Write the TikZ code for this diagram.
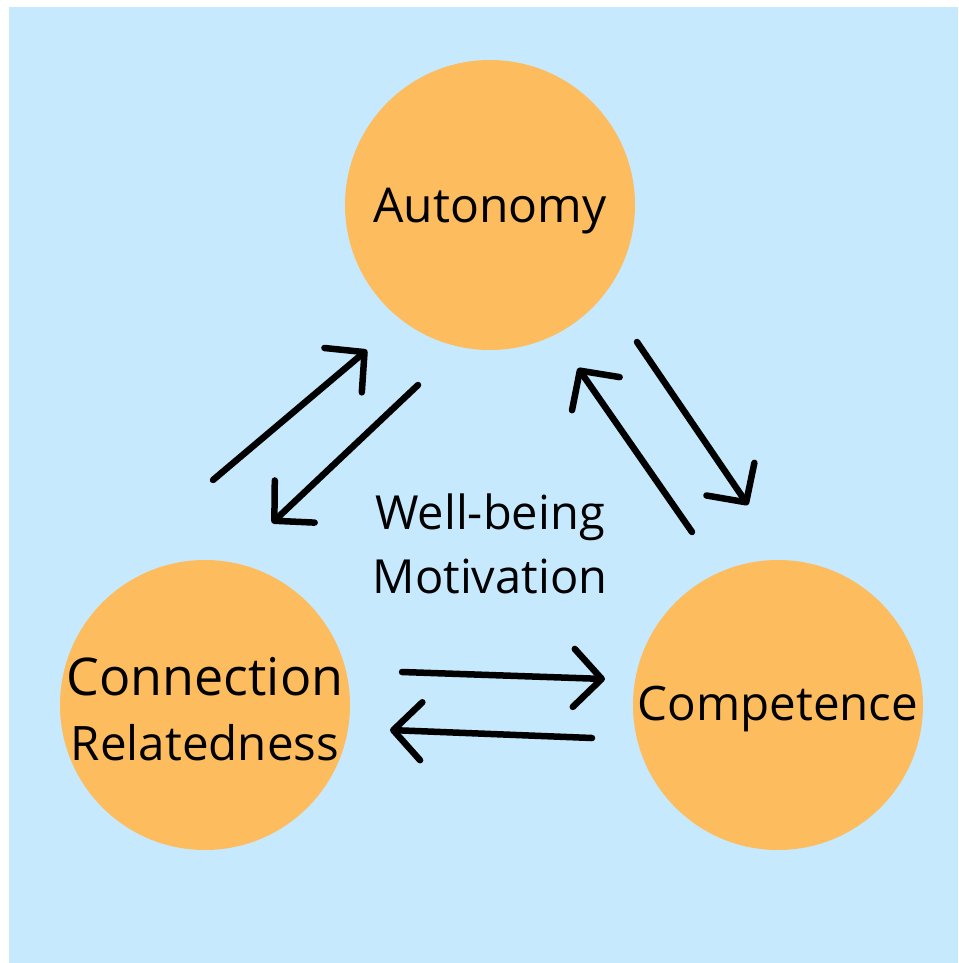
\documentclass[tikz,border=0pt]{standalone}
\usepackage{fontspec}
\setmainfont{Open Sans}
\usepackage{tikz}
\usetikzlibrary{arrows.meta,positioning}

\definecolor{skyblue}{HTML}{C7E9FE}
\definecolor{needorange}{HTML}{FDBC5E}

\begin{document}
\begin{tikzpicture}[x=1pt,y=-1pt]
	\tikzset{need/.style={circle,fill=needorange,minimum size=290pt,inner sep=0pt},
		word/.style={anchor=base,inner sep=0pt,font=\fontsize{#1}{#1}\selectfont},
		sketch/.style={line width=6.5pt,line cap=round,line join=round,-{Straight Barb[length=28pt,width=58pt,line cap=round,line join=round]}}}
	\useasboundingbox (0,0) rectangle (958,963);
	\fill[skyblue] (9,7) rectangle (958,963);

	%% the three needs
	\node[need] (aut) at (490,205) {};
	\node[need] (com) at (778,705) {};
	\node[need] (con) at (205,705) {};
	\node[word=48] (autt) at (490,222) {Autonomy};
	\node[word=47.5] (comt) at (778,720) {Competence};
	\node[word=52] (conn) at (205,695) {Connection};
	\node[word=47.5] (rel) at (205,760) {Relatedness};

	%% centre text
	\node[word=47] (well) at (490,529) {Well-being};
	\node[word=47] (moti) at (490,593) {Motivation};

	%% arrow ends
	\coordinate (a1s) at (213,480); \coordinate (a1e) at (367,350);
	\coordinate (a2s) at (418,385); \coordinate (a2e) at (272,523);
	\coordinate (a3s) at (692,532); \coordinate (a3e) at (578,368);
	\coordinate (a4s) at (637,342); \coordinate (a4e) at (748,505);
	\coordinate (a5s) at (402,672); \coordinate (a5e) at (605,679);
	\coordinate (a6s) at (592,738); \coordinate (a6e) at (390,730);
	\path[sketch]
		(a1s) edge (a1e)
		(a2s) edge (a2e)
		(a3s) edge (a3e)
		(a4s) edge (a4e)
		(a5s) edge (a5e)
		(a6s) edge (a6e);
\end{tikzpicture}
\end{document}
